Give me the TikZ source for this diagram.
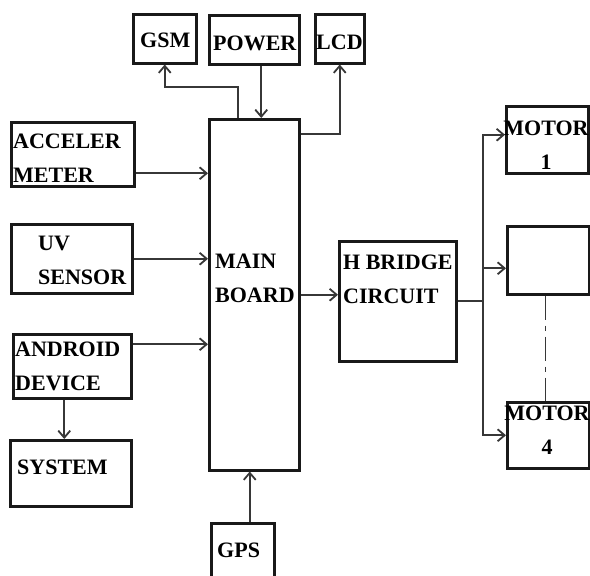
\documentclass[tikz,border=0pt]{standalone}
\usepackage{fontspec}
\setmainfont{Liberation Serif}
\usetikzlibrary{arrows.meta}
\definecolor{BoxLine}{RGB}{25,25,25}
\definecolor{WireGray}{RGB}{55,55,55}

\begin{document}
\begin{tikzpicture}[x=1pt,y=-1pt,
    blk/.style={draw=BoxLine,line width=2.5pt,inner sep=0pt,anchor=north west},
    txt/.style={inner sep=0pt,anchor=west,align=left,
                font=\fontsize{22}{34}\selectfont\bfseries},
    arr/.style={draw=WireGray,line width=2pt,
                -{Straight Barb[length=7pt,width=12pt,line width=1.8pt]}},
    wire/.style={draw=WireGray,line width=2pt}]
  \useasboundingbox[fill=white] (0,0) rectangle (590,576);

  % top row
  \node[blk,minimum width=63,minimum height=49] (gsm) at (132,13) {};
  \node[blk,minimum width=90,minimum height=49] (power) at (208,14) {};
  \node[blk,minimum width=49,minimum height=49] (lcd) at (314,13) {};
  \node[txt] (gsmT) at (140,40) {GSM};
  \node[txt] (powerT) at (213,43) {POWER};
  \node[txt] (lcdT) at (316,42) {LCD};

  % left column
  \node[blk,minimum width=123,minimum height=64] (acc) at (10,121) {};
  \node[blk,minimum width=121,minimum height=69] (uv) at (10,223) {};
  \node[blk,minimum width=118,minimum height=64] (andr) at (12,333) {};
  \node[blk,minimum width=121,minimum height=66] (sys) at (9,439) {};
  \node[txt] (accT) at (13,158) {ACCELER\\METER};
  \node[txt] (uvT) at (38,260) {UV\\SENSOR};
  \node[txt] (andrT) at (15,366) {ANDROID\\DEVICE};
  \node[txt] (sysT) at (17,467) {SYSTEM};

  % centre
  \node[blk,minimum width=90,minimum height=351] (main) at (208,118) {};
  \node[blk,minimum width=63,minimum height=70] (gps) at (210,522) {};
  \node[blk,minimum width=117,minimum height=120] (hb) at (338,240) {};
  \node[txt] (mainT) at (215,278) {MAIN\\BOARD};
  \node[txt] (gpsT) at (217,550) {GPS};
  \node[txt] (hbT) at (343,279) {H BRIDGE\\CIRCUIT};

  % motors
  \node[blk,minimum width=82,minimum height=67] (m1) at (505,105) {};
  \node[blk,minimum width=82,minimum height=68] (m2) at (506,225) {};
  \node[blk,minimum width=82,minimum height=66] (m4) at (506,401) {};
  \node[txt,anchor=center,align=center] (m1T) at (546,145) {MOTOR\\1};
  \node[txt,anchor=center,align=center] (m4T) at (547,430) {MOTOR\\4};

  % connections
  \draw[arr] ([xshift=-16pt]main.north) -- ++(0,-31) -| (gsm.south);
  \draw[arr] ([xshift=7pt]power.south) -- ([xshift=7pt]power.south |- main.north);
  \draw[arr] ([yshift=-16pt]main.north east) -| (lcd.south);
  \draw[arr] ([yshift=-19pt]acc.east) -- ([yshift=-19pt]acc.east -| main.west);
  \draw[arr] (uv.east) -- (uv.east -| main.west);
  \draw[arr] ([yshift=22pt]andr.east) -- ([yshift=22pt]andr.east -| main.west);
  \draw[arr] ([xshift=-8pt]andr.south) -- ([xshift=-8pt]andr.south |- sys.north);
  \draw[arr] ([xshift=7pt]gps.north) -- ([xshift=7pt]gps.north |- main.south);
  \draw[arr] (main.east) -- (main.east -| hb.west);
  \draw[wire] (hb.east) -- ++(25,0) coordinate (bus);
  \draw[arr] (bus) |- ([yshift=5pt]m1.west);
  \draw[arr] ([yshift=-8pt]bus |- m2.west) -- ([yshift=-8pt]m2.west);
  \draw[arr] (bus) |- (m4.west);
  \draw[draw=WireGray,line width=1.4pt,dash pattern=on 24pt off 6pt on 5pt off 6pt]
    ([xshift=-3pt]m2.south) -- ([xshift=-3pt]m2.south |- m4.north);
\end{tikzpicture}
\end{document}
